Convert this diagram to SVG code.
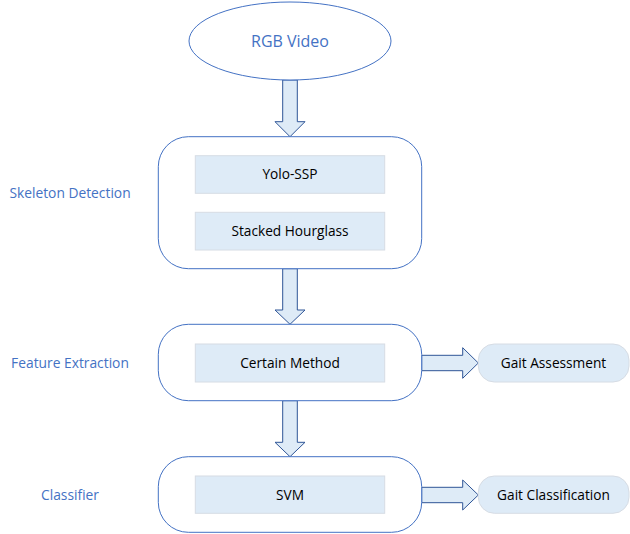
<svg xmlns="http://www.w3.org/2000/svg" width="630" height="534" viewBox="0 0 630 534">
<style>
.bg{fill:#ffffff}
.outer{fill:#ffffff;stroke:#4472C4;stroke-width:1}
.inner{fill:#DEEBF7;stroke:#D6DCE4;stroke-width:1}
.out{fill:#DEEBF7;stroke:#D6DCE4;stroke-width:1}
.arrow{fill:#DEEBF7;stroke:#2F5597;stroke-width:1;stroke-linejoin:miter}
.t{font-family:"Open Sans","Liberation Sans",sans-serif;font-size:13.7px;fill:#000000;text-anchor:middle}
.side{font-family:"Open Sans","Liberation Sans",sans-serif;font-size:13.8px;fill:#4472C4;text-anchor:middle}
.title{font-family:"Open Sans","Liberation Sans",sans-serif;font-size:16px;fill:#4472C4;text-anchor:middle}
</style>
<rect class="bg" x="0" y="0" width="630" height="534"/>
<g id="connectors">
<polygon class="arrow" points="282.7,80 297.3,80 297.3,121.7 305,121.7 290,136.7 275,121.7 282.7,121.7"/>
<polygon class="arrow" points="282.7,268.7 297.3,268.7 297.3,310 305,310 290,324.3 275,310 282.7,310"/>
<polygon class="arrow" points="282.7,400.7 297.3,400.7 297.3,442.3 305,442.3 290,456.7 275,442.3 282.7,442.3"/>
<polygon class="arrow" points="421.7,355.3 462.7,355.3 462.7,347.7 478.3,363 462.7,378.3 462.7,370.7 421.7,370.7"/>
<polygon class="arrow" points="421.7,487.3 462.7,487.3 462.7,480 478.3,495 462.7,510 462.7,502.7 421.7,502.7"/>
</g>
<g id="rgb-video">
<ellipse class="outer" cx="290" cy="41" rx="101" ry="39"/>
<text class="title" x="290" y="47">RGB Video</text>
</g>
<g id="skeleton-detection">
<rect class="outer" x="158.3" y="136.7" width="263.4" height="132" rx="30" ry="30"/>
<text class="side" x="70" y="198">Skeleton Detection</text>
</g>
<g id="yolo-ssp">
<rect class="inner" x="195.3" y="155.7" width="189.4" height="37.6"/>
<text class="t" x="290" y="179">Yolo-SSP</text>
</g>
<g id="stacked-hourglass">
<rect class="inner" x="195.3" y="212.3" width="189.4" height="37.7"/>
<text class="t" x="290" y="236">Stacked Hourglass</text>
</g>
<g id="feature-extraction">
<rect class="outer" x="158.3" y="324.3" width="263.4" height="76.4" rx="30" ry="30"/>
<text class="side" x="70" y="368">Feature Extraction</text>
</g>
<g id="certain-method">
<rect class="inner" x="195.3" y="344" width="189.4" height="38"/>
<text class="t" x="290" y="368">Certain Method</text>
</g>
<g id="gait-assessment">
<rect class="out" x="478.3" y="344" width="150.7" height="38" rx="16" ry="16"/>
<text class="t" x="553.5" y="368">Gait Assessment</text>
</g>
<g id="classifier">
<rect class="outer" x="158.3" y="456.7" width="263.4" height="75.6" rx="30" ry="30"/>
<text class="side" x="70" y="500">Classifier</text>
</g>
<g id="svm">
<rect class="inner" x="195.3" y="476" width="189.4" height="37.3"/>
<text class="t" x="290" y="500">SVM</text>
</g>
<g id="gait-classification">
<rect class="out" x="478.3" y="476" width="150.7" height="37.3" rx="16" ry="16"/>
<text class="t" x="553.5" y="500">Gait Classification</text>
</g>
</svg>
